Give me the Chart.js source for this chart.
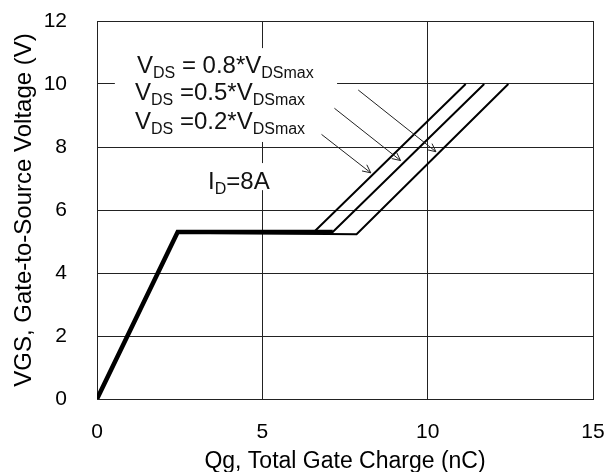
<!DOCTYPE html>
<html><head><meta charset="utf-8">
<script src="https://cdn.jsdelivr.net/npm/chart.js@4/dist/chart.umd.min.js"></script>
<style>html,body{margin:0;padding:0;background:#fff;}canvas{display:block;}</style>
</head><body>
<canvas id="c" width="605" height="472"></canvas>
<script>
// ---- data ----
const xTickValues = [0, 5, 10, 15];
const yTickValues = [0, 2, 4, 6, 8, 10, 12];
// common part (rise + Miller plateau), drawn thick
const baseQg  = [0, 2.44, 7.13];
const baseVgs = [0, 5.30, 5.30];
// VDS = 0.8*VDSmax
const qg08  = [2.44, 6.56, 11.15];
const vgs08 = [5.30, 5.30, 10.0];
// VDS = 0.5*VDSmax
const qg05  = [2.44, 7.13, 11.71];
const vgs05 = [5.30, 5.30, 10.0];
// VDS = 0.2*VDSmax
const qg02  = [2.44, 7.85, 12.44];
const vgs02 = [5.28, 5.23, 10.0];
const seriesNames = ['VDS = 0.8*VDSmax', 'VDS =0.5*VDSmax', 'VDS =0.2*VDSmax'];

// ---- annotation layout (data units) ----
const labelParts = [
  [['V',0],['DS',1],[' = 0.8*',0],['V',0],['DSmax',1]],
  [['V',0],['DS',1],[' =0.5*',0],['V',0],['DSmax',1]],
  [['V',0],['DS',1],[' =0.2*',0],['V',0],['DSmax',1]],
  [['I',0],['D',1],['=8A',0]]
];
const labelQg  = [1.21, 1.15, 1.15, 3.36];
const labelVgs = [10.63, 9.75, 8.83, 6.95];
const arrowFromQg  = [7.90, 7.18, 6.79];
const arrowFromVgs = [9.81, 9.23, 8.40];
const arrowToQg    = [10.25, 9.18, 8.28];
const arrowToVgs   = [7.85, 7.57, 7.18];
// white masks behind text: [qg0, qg1, vgsTop, vgsBottom]
const masks = [[0.54, 7.26, 11.14, 8.16], [2.80, 5.30, 7.49, 6.63]];

const pts = (xs, ys) => xs.map((v, i) => ({x: v, y: ys[i]}));
const FONT = '"Liberation Sans", Arial, sans-serif';

function drawRich(ctx, parts, x, yc) {
  const base = yc + 8.5;
  let cx = x;
  ctx.textAlign = 'left';
  ctx.textBaseline = 'alphabetic';
  for (const [t, sub] of parts) {
    ctx.font = (sub ? '16px ' : '24px ') + FONT;
    ctx.fillText(t, cx, sub ? base + 5 : base);
    cx += ctx.measureText(t).width;
  }
}

const annot = {
  id: 'annot',
  beforeDatasetsDraw(chart) {
    const {ctx, scales: {x, y}} = chart;
    ctx.save();
    ctx.fillStyle = '#fff';
    for (const m of masks) {
      const x0 = x.getPixelForValue(m[0]), x1 = x.getPixelForValue(m[1]);
      const y0 = y.getPixelForValue(m[2]), y1 = y.getPixelForValue(m[3]);
      ctx.fillRect(x0, y0, x1 - x0, y1 - y0);
    }
    ctx.restore();
  },
  afterDatasetsDraw(chart) {
    const {ctx, scales: {x, y}} = chart;
    ctx.save();
    ctx.strokeStyle = '#222';
    ctx.lineWidth = 1;
    for (let i = 0; i < arrowFromQg.length; i++) {
      const x0 = x.getPixelForValue(arrowFromQg[i]), y0 = y.getPixelForValue(arrowFromVgs[i]);
      const x1 = x.getPixelForValue(arrowToQg[i]), y1 = y.getPixelForValue(arrowToVgs[i]);
      const a = Math.atan2(y1 - y0, x1 - x0);
      ctx.beginPath();
      ctx.moveTo(x0, y0); ctx.lineTo(x1, y1);
      ctx.moveTo(x1 - 9 * Math.cos(a - 0.45), y1 - 9 * Math.sin(a - 0.45));
      ctx.lineTo(x1, y1);
      ctx.lineTo(x1 - 9 * Math.cos(a + 0.45), y1 - 9 * Math.sin(a + 0.45));
      ctx.stroke();
    }
    ctx.fillStyle = '#111';
    for (let i = 0; i < labelParts.length; i++) {
      drawRich(ctx, labelParts[i], x.getPixelForValue(labelQg[i]), y.getPixelForValue(labelVgs[i]));
    }
    ctx.restore();
  }
};

const noPad = s => { s.paddingTop = 0; s.paddingBottom = 0; s.paddingLeft = 0; s.paddingRight = 0; };
const gridColor = '#222';
new Chart(document.getElementById('c'), {
  type: 'line',
  data: {
    datasets: [
      {label: 'ID=8A', data: pts(baseQg, baseVgs), borderWidth: 4.5},
      {label: seriesNames[0], data: pts(qg08, vgs08), borderWidth: 2},
      {label: seriesNames[1], data: pts(qg05, vgs05), borderWidth: 2},
      {label: seriesNames[2], data: pts(qg02, vgs02), borderWidth: 2}
    ].map(d => Object.assign(d, {borderColor: '#000', backgroundColor: '#000', pointRadius: 0, tension: 0, fill: false, borderJoinStyle: 'miter'}))
  },
  options: {
    responsive: false,
    devicePixelRatio: 1,
    animation: false,
    layout: {padding: {left: 0, right: 12, top: 21, bottom: 0}},
    plugins: {legend: {display: false}, tooltip: {enabled: false}},
    scales: {
      x: {
        type: 'linear', min: 0, max: 15,
        afterBuildTicks: s => { s.ticks = xTickValues.map(v => ({value: v})); },
        afterFit: s => { s.height = 73; noPad(s); },
        ticks: {color: '#000', font: {family: FONT, size: 21}, padding: 21},
        grid: {color: gridColor, lineWidth: 1, drawTicks: false},
        border: {color: gridColor, width: 1},
        title: {display: true, text: 'Qg, Total Gate Charge (nC)', color: '#000',
                font: {family: FONT, size: 23, lineHeight: 0.87}, padding: {top: 0, bottom: 0}}
      },
      y: {
        type: 'linear', min: 0, max: 12,
        afterBuildTicks: s => { s.ticks = yTickValues.map(v => ({value: v})); },
        afterFit: s => { s.width = 97; noPad(s); },
        ticks: {color: '#000', font: {family: FONT, size: 21}, padding: 30},
        grid: {color: gridColor, lineWidth: 1, drawTicks: false},
        border: {color: gridColor, width: 1},
        title: {display: true, text: 'VGS, Gate-to-Source Voltage (V)', color: '#000',
                font: {family: FONT, size: 24}, padding: {top: 10, bottom: 0}}
      }
    }
  },
  plugins: [annot]
});
</script>
</body></html>
